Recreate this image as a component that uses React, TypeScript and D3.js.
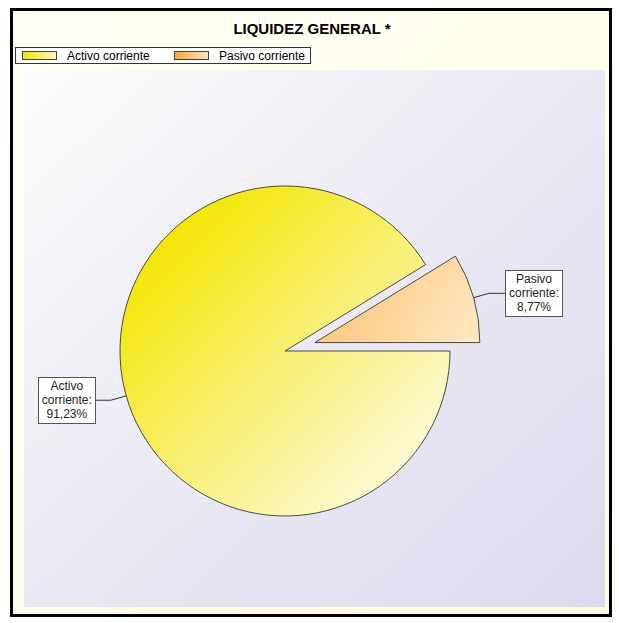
import React from "react";
import * as d3 from "d3";

const title = "LIQUIDEZ GENERAL *";
const categories = ["Activo corriente", "Pasivo corriente"];
const values = [91.23, 8.77];
const exploded = [false, true];

const W = 619;
const H = 623;

export default function App() {
  const cx = 285;
  const cy = 351;
  const r = 165;
  const explodeDist = 31;

  const pie = d3
    .pie<number>()
    .sort(null)
    .startAngle(Math.PI / 2)
    .endAngle(Math.PI / 2 + 2 * Math.PI);
  const arcs = pie(values);
  const arc = d3.arc<d3.PieArcDatum<number>>().innerRadius(0).outerRadius(r);
  const fmt = d3.format(".2f");

  const gradIds = ["gActivo", "gPasivo"];
  const legendSw = ["lgActivo", "lgPasivo"];
  const legendX = [22, 174];

  return (
    <svg
      width={W}
      height={H}
      style={{ position: "absolute", left: 0, top: 0 }}
      fontFamily="'Liberation Sans', Arial, sans-serif"
    >
      <defs>
        <linearGradient id="outerBg" x1="0" y1="0" x2="1" y2="1">
          <stop offset="0" stopColor="#fffff6" />
          <stop offset="1" stopColor="#fffbe2" />
        </linearGradient>
        <linearGradient id="plotBg" x1="0" y1="0" x2="1" y2="1">
          <stop offset="0" stopColor="#fcfcfc" />
          <stop offset="0.5" stopColor="#ebe9f3" />
          <stop offset="1" stopColor="#dcd9ee" />
        </linearGradient>
        <linearGradient
          id="gActivo"
          gradientUnits="userSpaceOnUse"
          x1={-r * 0.75}
          y1={-r * 0.75}
          x2={r * 0.75}
          y2={r * 0.75}
        >
          <stop offset="0" stopColor="#f4e600" />
          <stop offset="0.5" stopColor="#f7ef70" />
          <stop offset="1" stopColor="#fdfbd8" />
        </linearGradient>
        <linearGradient
          id="gPasivo"
          gradientUnits="userSpaceOnUse"
          x1={0}
          y1={-r * 0.6}
          x2={r}
          y2={0}
        >
          <stop offset="0" stopColor="#fbbd66" />
          <stop offset="1" stopColor="#feeac6" />
        </linearGradient>
        <linearGradient id="lgActivo" x1="0" y1="0" x2="1" y2="0">
          <stop offset="0" stopColor="#f4e400" />
          <stop offset="1" stopColor="#fdf9c8" />
        </linearGradient>
        <linearGradient id="lgPasivo" x1="0" y1="0" x2="1" y2="0">
          <stop offset="0" stopColor="#f9a836" />
          <stop offset="1" stopColor="#fee4c0" />
        </linearGradient>
      </defs>

      {/* outer frame */}
      <rect x={11.5} y={9.5} width={599} height={606} fill="url(#outerBg)" stroke="#000" strokeWidth={3} />
      {/* plot area */}
      <rect x={24} y={70} width={581} height={537} fill="url(#plotBg)" />

      {/* title */}
      <text x={312} y={34} textAnchor="middle" fontSize={15} fontWeight="bold" fill="#000">
        {title}
      </text>

      {/* legend */}
      <g>
        <rect x={15.5} y={47.5} width={295} height={16} fill="#fff" stroke="#333" strokeWidth={1} />
        {categories.map((c, i) => {
          const x0 = legendX[i];
          return (
            <g key={c}>
              <rect x={x0 + 0.5} y={51.5} width={34} height={8} fill={`url(#${legendSw[i]})`} stroke="#444" strokeWidth={1} />
              <text x={x0 + 45} y={60} fontSize={12} fill="#000">
                {c}
              </text>
            </g>
          );
        })}
      </g>

      {/* pie */}
      {arcs.map((a, i) => {
        const mid = (a.startAngle + a.endAngle) / 2;
        const dx = exploded[i] ? Math.sin(mid) * explodeDist : 0;
        const dy = exploded[i] ? -Math.cos(mid) * explodeDist : 0;
        return (
          <path
            key={i}
            d={arc(a) || ""}
            transform={`translate(${cx + dx},${cy + dy})`}
            fill={`url(#${gradIds[i]})`}
            stroke="#4a4a40"
            strokeWidth={1}
          />
        );
      })}

      {/* labels */}
      {arcs.map((a, i) => {
        const mid = (a.startAngle + a.endAngle) / 2;
        const ux = Math.sin(mid);
        const uy = -Math.cos(mid);
        const ox = cx + (exploded[i] ? ux * explodeDist : 0);
        const oy = cy + (exploded[i] ? uy * explodeDist : 0);
        const px = ox + ux * r;
        const py = oy + uy * r;
        const ex = px + ux * 16;
        const ey = py + uy * 16;
        const right = ux > 0;
        const bw = 57;
        const bh = 46;
        const bx = right ? ex + 16 : ex - 16 - bw;
        const by = ey - bh / 2;
        const lines = categories[i].split(" ");
        const textLines = [lines[0], lines.slice(1).join(" ") + ":", fmt(values[i]).replace(".", ",") + "%"];
        return (
          <g key={"l" + i}>
            <polyline
              points={`${px},${py} ${ex},${ey} ${right ? bx : bx + bw},${ey}`}
              fill="none"
              stroke="#333"
              strokeWidth={1}
            />
            <rect x={Math.round(bx) + 0.5} y={Math.round(by) + 0.5} width={bw} height={bh} fill="#fff" stroke="#555" strokeWidth={1} />
            {textLines.map((t, j) => (
              <text key={j} x={bx + bw / 2 + 0.5} y={by + 13 + j * 14} textAnchor="middle" fontSize={12} fill="#222">
                {t}
              </text>
            ))}
          </g>
        );
      })}
    </svg>
  );
}
